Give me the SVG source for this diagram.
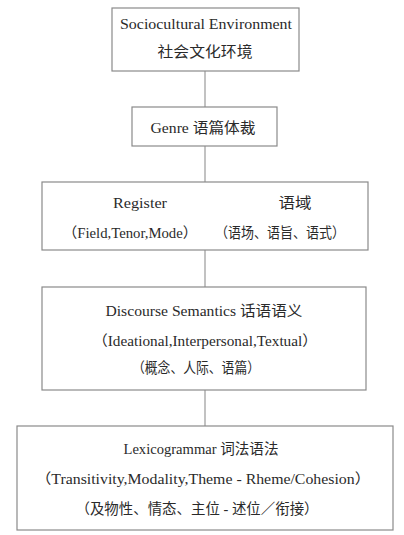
<svg xmlns="http://www.w3.org/2000/svg" width="404" height="535" viewBox="0 0 404 535">
<style>
.box{fill:#fff;stroke:#8a8a8a;stroke-width:1.2}
.con{stroke:#999;stroke-width:1.2;fill:none}
.t{font-size:14.5px;fill:#2a2a2a;text-anchor:middle}
</style>
<rect width="404" height="535" fill="#fff"/>
<g id="connectors">
<line class="con" x1="205" y1="71" x2="205" y2="107"/>
<line class="con" x1="205" y1="146" x2="205" y2="182"/>
<line class="con" x1="205" y1="250" x2="205" y2="287"/>
<line class="con" x1="205" y1="390" x2="205" y2="426"/>
</g>
<g font-family="Liberation Serif, Noto Sans CJK SC, serif">
<g id="sociocultural">
<rect class="box" x="112" y="8" width="187" height="63"/>
<text class="t" x="206" y="29" textLength="172" lengthAdjust="spacingAndGlyphs">Sociocultural Environment</text>
<text class="t" x="205" y="57" textLength="95" lengthAdjust="spacingAndGlyphs">社会文化环境</text>
</g>
<g id="genre">
<rect class="box" x="132" y="107" width="145" height="39"/>
<text class="t" x="203" y="133" textLength="105" lengthAdjust="spacingAndGlyphs">Genre 语篇体裁</text>
</g>
<g id="register">
<rect class="box" x="42" y="182" width="326" height="68"/>
<text class="t" x="140" y="208" textLength="54" lengthAdjust="spacingAndGlyphs">Register</text>
<text class="t" x="295" y="208" textLength="33" lengthAdjust="spacingAndGlyphs">语域</text>
<text class="t" x="130" y="238" textLength="135" lengthAdjust="spacingAndGlyphs">（Field,Tenor,Mode）</text>
<text class="t" x="280" y="238" textLength="130" lengthAdjust="spacingAndGlyphs">（语场、语旨、语式）</text>
</g>
<g id="discourse">
<rect class="box" x="42" y="287" width="324" height="103"/>
<text class="t" x="204" y="316" textLength="197" lengthAdjust="spacingAndGlyphs">Discourse Semantics 话语语义</text>
<text class="t" x="205" y="346" textLength="225" lengthAdjust="spacingAndGlyphs">（Ideational,Interpersonal,Textual）</text>
<text class="t" x="196" y="373" textLength="128" lengthAdjust="spacingAndGlyphs">（概念、人际、语篇）</text>
</g>
<g id="lexicogrammar">
<rect class="box" x="17" y="426" width="376" height="104"/>
<text class="t" x="201" y="454" textLength="155" lengthAdjust="spacingAndGlyphs">Lexicogrammar 词法语法</text>
<text class="t" x="203" y="484" textLength="335" lengthAdjust="spacingAndGlyphs">（Transitivity,Modality,Theme - Rheme/Cohesion）</text>
<text class="t" x="197" y="514" textLength="243" lengthAdjust="spacingAndGlyphs">（及物性、情态、主位 - 述位／衔接）</text>
</g>
</g>
</svg>
